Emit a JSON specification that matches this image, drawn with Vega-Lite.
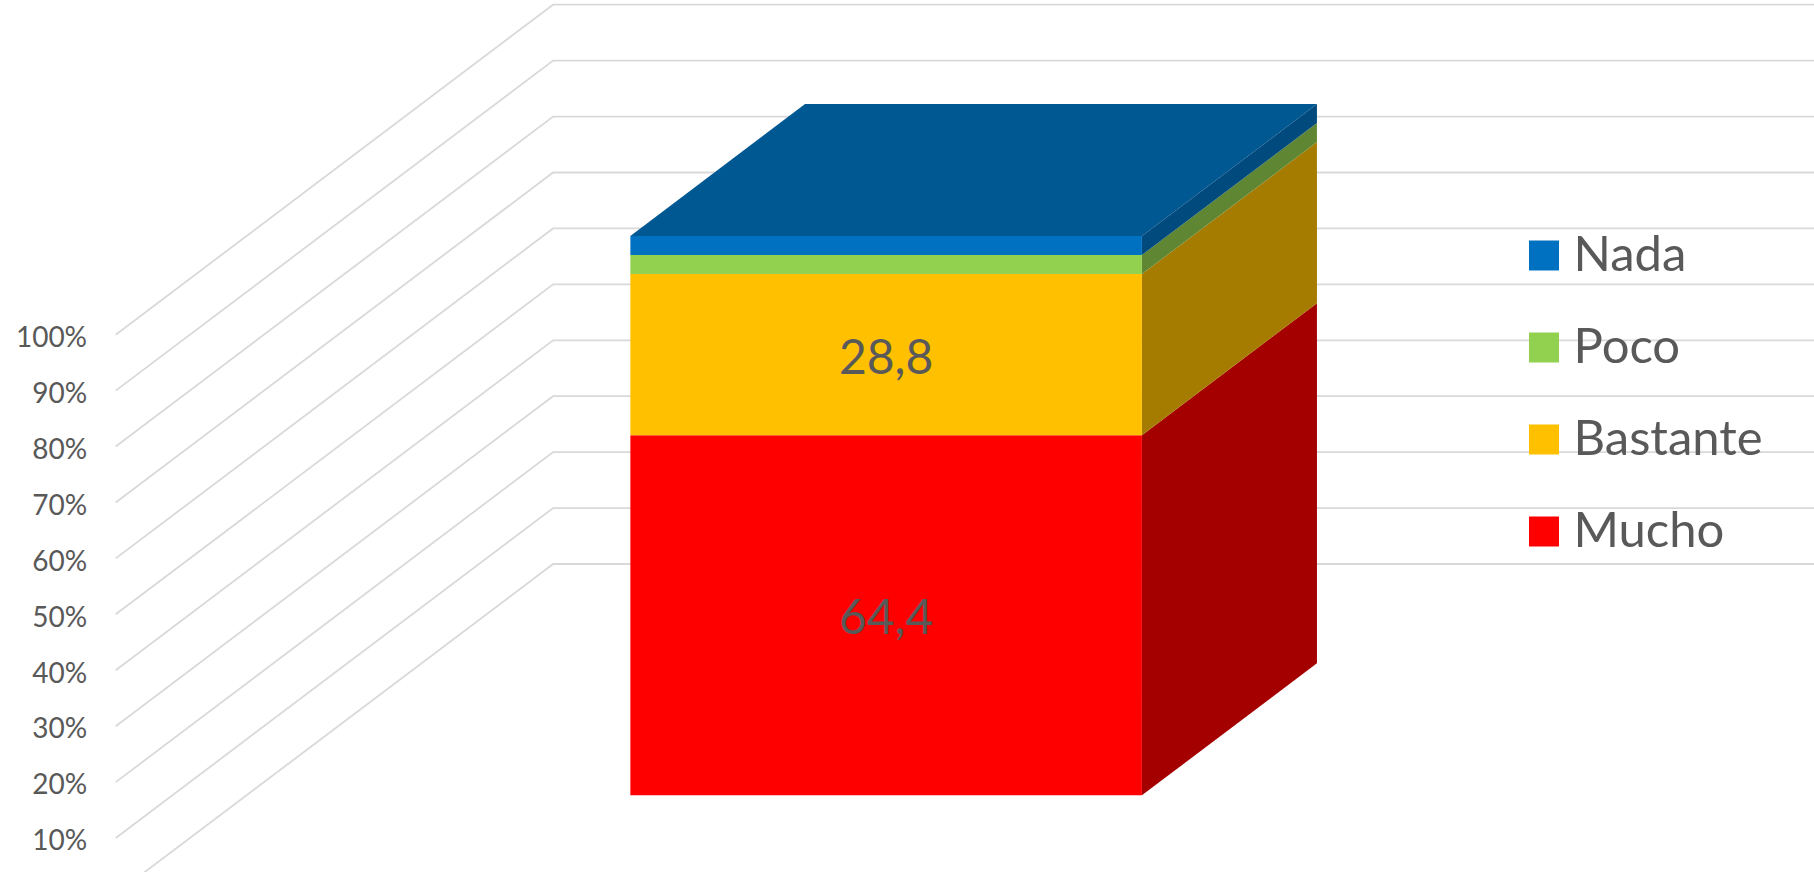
{
"$schema":"https://vega.github.io/schema/vega-lite/v6.json",
"autosize":{"type":"fit","contains":"padding"},
"width":1814,"height":872,"padding":0,"background":"white",
"config":{"view":{"stroke":null},"font":"Lato"},
"datasets":{
"series":[
{"series":"Mucho","value":64.4,"rank":1,"label":"64,4","mid":32.2},
{"series":"Bastante","value":28.8,"rank":2,"label":"28,8","mid":78.8},
{"series":"Poco","value":3.4,"rank":3,"label":"","mid":94.9},
{"series":"Nada","value":3.4,"rank":4,"label":"","mid":98.3}
],
"sides":[
{"series":"Mucho","x":62.95,"y":0,"y2":64.4},{"series":"Mucho","x":72.6,"y":23.6,"y2":88},
{"series":"Bastante","x":62.95,"y":64.4,"y2":93.2},{"series":"Bastante","x":72.6,"y":88,"y2":116.8},
{"series":"Poco","x":62.95,"y":93.2,"y2":96.6},{"series":"Poco","x":72.6,"y":116.8,"y2":120.2},
{"series":"Nada","x":62.95,"y":96.6,"y2":100},{"series":"Nada","x":72.6,"y":120.2,"y2":123.6}
],
"top":[
{"x":34.75,"y":100,"y2":100},{"x":44.38,"y":123.6,"y2":100},{"x":62.95,"y":123.6,"y2":100},{"x":72.6,"y":123.6,"y2":123.6}
],
"grid":[
{"level":0,"x":6.38,"y":-17.64},{"level":0,"x":30.49,"y":41.36},{"level":0,"x":100,"y":41.36},
{"level":10,"x":6.38,"y":-7.64},{"level":10,"x":30.49,"y":51.36},{"level":10,"x":100,"y":51.36},
{"level":20,"x":6.38,"y":2.36},{"level":20,"x":30.49,"y":61.36},{"level":20,"x":100,"y":61.36},
{"level":30,"x":6.38,"y":12.36},{"level":30,"x":30.49,"y":71.36},{"level":30,"x":100,"y":71.36},
{"level":40,"x":6.38,"y":22.36},{"level":40,"x":30.49,"y":81.36},{"level":40,"x":100,"y":81.36},
{"level":50,"x":6.38,"y":32.36},{"level":50,"x":30.49,"y":91.36},{"level":50,"x":100,"y":91.36},
{"level":60,"x":6.38,"y":42.36},{"level":60,"x":30.49,"y":101.36},{"level":60,"x":100,"y":101.36},
{"level":70,"x":6.38,"y":52.36},{"level":70,"x":30.49,"y":111.36},{"level":70,"x":100,"y":111.36},
{"level":80,"x":6.38,"y":62.36},{"level":80,"x":30.49,"y":121.36},{"level":80,"x":100,"y":121.36},
{"level":90,"x":6.38,"y":72.36},{"level":90,"x":30.49,"y":131.36},{"level":90,"x":100,"y":131.36},
{"level":100,"x":6.38,"y":82.36},{"level":100,"x":30.49,"y":141.36},{"level":100,"x":100,"y":141.36}
],
"ticks":[
{"t":"100%","x":4.8,"y":81.6},{"t":"90%","x":4.8,"y":71.6},{"t":"80%","x":4.8,"y":61.6},{"t":"70%","x":4.8,"y":51.6},{"t":"60%","x":4.8,"y":41.6},
{"t":"50%","x":4.8,"y":31.6},{"t":"40%","x":4.8,"y":21.6},{"t":"30%","x":4.8,"y":11.6},{"t":"20%","x":4.8,"y":1.6},{"t":"10%","x":4.8,"y":-8.4}
]
},
"layer":[
{"data":{"name":"grid"},"mark":{"type":"line","color":"#D9D9D9","strokeWidth":1.8,"clip":true},
 "encoding":{"x":{"field":"x","type":"quantitative","scale":{"domain":[0,100],"nice":false,"zero":false},"axis":null},
 "y":{"field":"y","type":"quantitative","scale":{"domain":[-13.71,142.2],"nice":false,"zero":false},"axis":null},
 "detail":{"field":"level"},"order":{"field":"x"}}},
{"data":{"name":"ticks"},"mark":{"type":"text","align":"right","baseline":"middle","fontSize":28,"color":"#595959"},
 "encoding":{"x":{"field":"x","type":"quantitative"},"y":{"field":"y","type":"quantitative"},"text":{"field":"t"}}},
{"data":{"name":"top"},"mark":{"type":"area","color":"#005893"},
 "encoding":{"x":{"field":"x","type":"quantitative"},"y":{"field":"y","type":"quantitative"},"y2":{"field":"y2"}}},
{"data":{"name":"sides"},"mark":{"type":"area"},
 "encoding":{"x":{"field":"x","type":"quantitative"},"y":{"field":"y","type":"quantitative"},"y2":{"field":"y2"},
 "color":{"field":"series","type":"nominal","legend":null,"scale":{"domain":["Nada","Poco","Bastante","Mucho"],"range":["#004A7D","#5F8733","#A67C00","#A50000"]}}}},
{"data":{"name":"series"},"transform":[{"stack":"value","sort":[{"field":"rank","order":"ascending"}],"groupby":[],"as":["y0","y1"]}],
 "mark":{"type":"rect"},
 "encoding":{"x":{"datum":34.75,"type":"quantitative"},"x2":{"datum":62.95},"y":{"field":"y0","type":"quantitative"},"y2":{"field":"y1"},
 "color":{"field":"series","type":"nominal","scale":{"domain":["Nada","Poco","Bastante","Mucho"],"range":["#0070C0","#92D050","#FFC000","#FF0000"]},
 "legend":{"title":null,"orient":"none","legendX":1519.5,"legendY":231,"symbolType":"square","symbolSize":900,"symbolStrokeWidth":0,"symbolOpacity":1,"labelFontSize":49,"labelColor":"#595959","labelFont":"Lato","labelOffset":5,"rowPadding":42,"labelLimit":300}}}},
{"data":{"name":"series"},"transform":[{"filter":"datum.label != ''"}],
 "mark":{"type":"text","fontSize":48,"color":"#595959","baseline":"middle","dy":5},
 "encoding":{"x":{"datum":48.85,"type":"quantitative"},"y":{"field":"mid","type":"quantitative"},"text":{"field":"label"}}}
],
"resolve":{"scale":{"color":"independent"}}
}
